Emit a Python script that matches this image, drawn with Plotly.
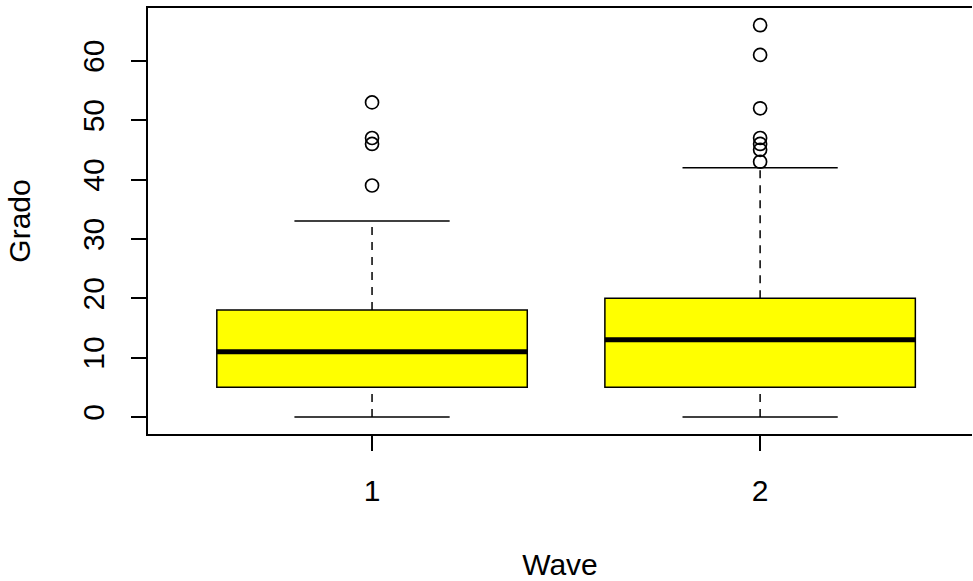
import plotly.graph_objects as go

# ---- data ----
waves = [1, 2]
q1 = [5, 5]
medians = [11, 13]
q3 = [18, 20]
lower_whisker = [0, 0]
upper_whisker = [33, 42]
outliers_w1 = [39, 46, 47, 53]
outliers_w2 = [43, 45, 46, 47, 52, 61, 66]
y_ticks = [0, 10, 20, 30, 40, 50, 60]
x_ticks = [1, 2]
x_tick_labels = ["1", "2"]

BOX_W = 0.8
STAPLE_HALF = BOX_W / 4
FONT = "Liberation Sans, Arial, sans-serif"
FS = 30

fig = go.Figure()

# dashed whiskers
wx, wy = [], []
for w, a, b, lo, hi in zip(waves, q1, q3, lower_whisker, upper_whisker):
    wx += [w, w, None, w, w, None]
    wy += [b, hi, None, lo, a, None]
fig.add_trace(go.Scatter(x=wx, y=wy, mode="lines",
                         line=dict(color="black", width=1.5, dash="8px,7px"),
                         hoverinfo="skip", showlegend=False))

# staples
sx, sy = [], []
for w, lo, hi in zip(waves, lower_whisker, upper_whisker):
    sx += [w - STAPLE_HALF, w + STAPLE_HALF, None, w - STAPLE_HALF, w + STAPLE_HALF, None]
    sy += [hi, hi, None, lo, lo, None]
fig.add_trace(go.Scatter(x=sx, y=sy, mode="lines",
                         line=dict(color="black", width=1.5),
                         hoverinfo="skip", showlegend=False))

# boxes
fig.add_trace(go.Box(x=waves, q1=q1, median=medians, q3=q3,
                     lowerfence=q1, upperfence=q3,
                     width=BOX_W, whiskerwidth=0,
                     fillcolor="#FFFF00",
                     line=dict(color="black", width=1.5),
                     boxpoints=False, showlegend=False))

# thick medians
mx, my = [], []
for w, m in zip(waves, medians):
    mx += [w - BOX_W / 2, w + BOX_W / 2, None]
    my += [m, m, None]
fig.add_trace(go.Scatter(x=mx, y=my, mode="lines",
                         line=dict(color="black", width=5),
                         hoverinfo="skip", showlegend=False))

# outliers
ox = [waves[0]] * len(outliers_w1) + [waves[1]] * len(outliers_w2)
oy = outliers_w1 + outliers_w2
fig.add_trace(go.Scatter(x=ox, y=oy, mode="markers",
                         marker=dict(symbol="circle-open", size=13, color="black",
                                     line=dict(width=1.7, color="black")),
                         showlegend=False))

fig.update_layout(
    width=973, height=581,
    margin=dict(l=148, r=1, t=8, b=147),
    paper_bgcolor="white", plot_bgcolor="white",
    template="none",
    font=dict(family=FONT, size=FS, color="black"),
    showlegend=False,
)
fig.update_xaxes(
    range=[0.4227, 2.546], tickmode="array", tickvals=x_ticks, ticktext=x_tick_labels,
    ticks="outside", ticklen=15, tickwidth=1.5, tickcolor="black",
    showline=True, linecolor="black", linewidth=1.8, mirror=True,
    showgrid=False, zeroline=False, ticklabelstandoff=14,
    tickfont=dict(size=FS),
    title=dict(text="Wave", standoff=49, font=dict(size=FS)),
)
fig.update_yaxes(
    range=[-2.87, 68.9], tickmode="array", tickvals=y_ticks,
    ticks="outside", ticklen=15, tickwidth=1.5, tickcolor="black",
    showline=True, linecolor="black", linewidth=1.8, mirror=False,
    showgrid=False, zeroline=False, tickangle=-90, ticklabelstandoff=15,
    tickfont=dict(size=FS),
    title=dict(text="Grado", standoff=38, font=dict(size=FS)),
)

fig.write_html("out.html")
